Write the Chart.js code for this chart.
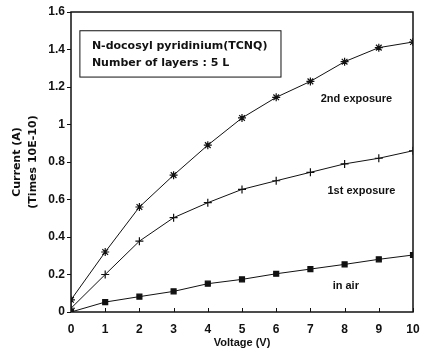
<!DOCTYPE html>
<html>
<head>
<meta charset="utf-8">
<script src="https://cdn.jsdelivr.net/npm/chart.js@4/dist/chart.umd.min.js"></script>
<style>
  html, body { margin: 0; padding: 0; background: #fff; }
  #wrap { width: 423px; height: 352px; }
</style>
</head>
<body>
<div id="wrap"><canvas id="chart" width="423" height="352"></canvas></div>
<script>
// Data
const voltage = [0, 1, 2, 3, 4, 5, 6, 7, 8, 9, 10];
const secondExposure = [0.065, 0.32, 0.56, 0.73, 0.89, 1.035, 1.145, 1.23, 1.335, 1.41, 1.44];
const firstExposure = [0.02, 0.20, 0.378, 0.503, 0.583, 0.654, 0.70, 0.745, 0.79, 0.82, 0.86];
const inAir = [0.0, 0.053, 0.082, 0.11, 0.151, 0.174, 0.204, 0.229, 0.254, 0.281, 0.304];
const xTicks = [0, 1, 2, 3, 4, 5, 6, 7, 8, 9, 10];
const yTicks = [0, 0.2, 0.4, 0.6, 0.8, 1, 1.2, 1.4, 1.6];

const fontFamily = '"Liberation Sans", Arial, sans-serif';
const wideFamily = '"DejaVu Sans", sans-serif';
const ink = '#111';

// Series labels, placed in data coordinates
const seriesNotes = [
    { text: '2nd exposure', x: 7.3, y: 1.136 },
    { text: '1st exposure', x: 7.5, y: 0.645 },
    { text: 'in air', x: 7.65, y: 0.139 }
];
const infoLines = ['N-docosyl pyridinium(TCNQ)', 'Number of layers : 5 L'];

function toXY(ys) {
    return voltage.map((v, i) => ({ x: v, y: ys[i] }));
}

// Frame, inner x ticks, info box and text labels
const decorations = {
    id: 'decorations',
    afterDraw(chart) {
        const { ctx, chartArea: a, scales } = chart;
        const sx = scales.x, sy = scales.y;
        ctx.save();
        ctx.strokeStyle = ink;
        ctx.lineWidth = 1.5;
        ctx.strokeRect(a.left, a.top, a.right - a.left, a.bottom - a.top);

        // x ticks point inward
        ctx.lineWidth = 1;
        ctx.beginPath();
        xTicks.forEach(t => {
            const px = Math.round(sx.getPixelForValue(t)) + 0.5;
            ctx.moveTo(px, a.bottom);
            ctx.lineTo(px, a.bottom - 4);
        });
        ctx.stroke();

        // info box
        const bx0 = sx.getPixelForValue(0.26), bx1 = sx.getPixelForValue(6.14);
        const by0 = sy.getPixelForValue(1.5), by1 = sy.getPixelForValue(1.253);
        ctx.strokeRect(bx0, by0, bx1 - bx0, by1 - by0);
        ctx.fillStyle = ink;
        ctx.textBaseline = 'middle';
        ctx.textAlign = 'left';
        ctx.font = 'bold 11px ' + wideFamily;
        ctx.fillText(infoLines[0], bx0 + 12, by0 + 15);
        ctx.fillText(infoLines[1], bx0 + 12, by0 + 32);

        ctx.font = 'bold 11px ' + fontFamily;
        seriesNotes.forEach(n => {
            ctx.fillText(n.text, sx.getPixelForValue(n.x), sy.getPixelForValue(n.y));
        });
        ctx.restore();
    }
};

const lineStyle = {
    borderColor: ink,
    backgroundColor: ink,
    pointBorderColor: ink,
    pointBackgroundColor: ink,
    borderWidth: 1,
    pointBorderWidth: 1.2,
    tension: 0,
    fill: false
};

new Chart(document.getElementById('chart').getContext('2d'), {
    type: 'line',
    data: {
        datasets: [
            { ...lineStyle, label: '2nd exposure', data: toXY(secondExposure), pointStyle: 'star', pointRadius: 4 },
            { ...lineStyle, label: '1st exposure', data: toXY(firstExposure), pointStyle: 'cross', pointRadius: 4 },
            { ...lineStyle, label: 'in air', data: toXY(inAir), pointStyle: 'rect', pointRadius: 3.5 }
        ]
    },
    options: {
        responsive: false,
        animation: false,
        layout: { padding: { top: 12, right: 10, left: 0, bottom: 0 } },
        plugins: {
            legend: { display: false },
            tooltip: { enabled: false }
        },
        scales: {
            x: {
                type: 'linear',
                min: 0,
                max: 10,
                afterBuildTicks: s => { s.ticks = xTicks.map(v => ({ value: v })); },
                afterFit: s => { s.height = 40; },
                grid: { display: false },
                border: { display: false },
                ticks: {
                    color: ink,
                    font: { family: fontFamily, size: 12, weight: 'bold' },
                    padding: 2,
                    maxRotation: 0
                },
                title: {
                    display: true,
                    text: 'Voltage (V)',
                    color: ink,
                    font: { family: fontFamily, size: 11, weight: 'bold' },
                    padding: { top: 0, bottom: 2 }
                }
            },
            y: {
                type: 'linear',
                min: 0,
                max: 1.6,
                afterBuildTicks: s => { s.ticks = yTicks.map(v => ({ value: v })); },
                afterFit: s => { s.width = 71; },
                grid: { display: true, drawOnChartArea: false, tickLength: 4, color: ink },
                border: { display: false },
                ticks: {
                    color: ink,
                    font: { family: fontFamily, size: 12, weight: 'bold' },
                    padding: 2,
                    callback: v => String(+v.toFixed(1))
                },
                title: {
                    display: true,
                    text: ['Current (A)', '(Times 10E-10)'],
                    color: ink,
                    font: { family: wideFamily, size: 11, weight: 'bold', lineHeight: 1.45 },
                    padding: { top: 9, bottom: 0 }
                }
            }
        }
    },
    plugins: [decorations]
});
</script>
</body>
</html>
